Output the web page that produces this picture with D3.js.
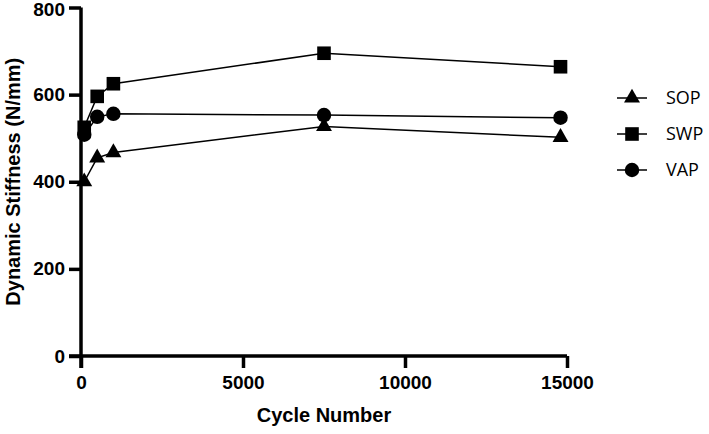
<!DOCTYPE html>
<html>
<head>
<meta charset="utf-8">
<script src="https://cdn.jsdelivr.net/npm/d3@7"></script>
<style>
  body { margin: 0; background: #fff; }
  svg { display: block; }
</style>
</head>
<body>
<svg id="chart"></svg>
<script>
const width = 709;
const height = 434;

// data
const cycles = [100, 500, 1000, 7500, 14800];
const sop = [400, 455, 467, 527, 502];
const swp = [525, 596, 625, 695, 664];
const vap = [508, 549, 556, 553, 547];
const xTicks = [0, 5000, 10000, 15000];
const yTicks = [0, 200, 400, 600, 800];

const series = [
  { name: 'SOP', values: sop, symbol: d3.symbolTriangle, size: 110 },
  { name: 'SWP', values: swp, symbol: d3.symbolSquare, size: 185 },
  { name: 'VAP', values: vap, symbol: d3.symbolCircle, size: 165 }
];

const svg = d3.select('#chart')
  .attr('width', width)
  .attr('height', height);

const x = d3.scaleLinear().domain([0, 15000]).range([81, 567]);
const y = d3.scaleLinear().domain([0, 800]).range([356, 7.5]);

const tickFont = 'Liberation Sans, Arial, sans-serif';

// y axis
const yAxis = svg.append('g')
  .attr('transform', `translate(${x(0)},0)`)
  .call(d3.axisLeft(y).tickValues(yTicks).tickSize(12).tickSizeOuter(0).tickPadding(4));

// x axis
const xAxis = svg.append('g')
  .attr('transform', `translate(0,${y(0)})`)
  .call(d3.axisBottom(x).tickValues(xTicks).tickFormat(d3.format('d')).tickSize(12).tickSizeOuter(0).tickPadding(8));

[yAxis, xAxis].forEach(g => {
  g.select('.domain').attr('stroke', '#000').attr('stroke-width', 3.5);
  g.selectAll('.tick line').attr('stroke', '#000').attr('stroke-width', 3.5);
  g.selectAll('.tick text')
    .attr('fill', '#000')
    .style('font-family', tickFont)
    .style('font-weight', 'bold')
    .style('font-size', '19px');
});
// top label sits right at the edge, nudge it so it is not clipped
yAxis.selectAll('.tick text').filter(d => d === 800).attr('y', 2);

// y axis runs down through the x axis, x axis starts at the y tick
yAxis.select('.domain').attr('d', `M0,${y(800)}V${y(0) + 12}`);
xAxis.select('.domain').attr('d', `M${x(0) - 12},0H${x(15000)}`);

// axis titles
svg.append('text')
  .attr('x', (x(0) + x(15000)) / 2)
  .attr('y', 422)
  .attr('text-anchor', 'middle')
  .style('font-family', tickFont)
  .style('font-weight', 'bold')
  .style('font-size', '20px')
  .text('Cycle Number');

svg.append('text')
  .attr('transform', `translate(20,${(y(0) + y(800)) / 2}) rotate(-90)`)
  .attr('text-anchor', 'middle')
  .style('font-family', tickFont)
  .style('font-weight', 'bold')
  .style('font-size', '20px')
  .text('Dynamic Stiffness (N/mm)');

const line = d3.line()
  .x((d, i) => x(cycles[i]))
  .y(d => y(d));

series.forEach(s => {
  svg.append('path')
    .datum(s.values)
    .attr('fill', 'none')
    .attr('stroke', '#000')
    .attr('stroke-width', 1.5)
    .attr('d', line);

  svg.append('g')
    .selectAll('path')
    .data(s.values)
    .enter().append('path')
    .attr('transform', (d, i) => `translate(${x(cycles[i])},${y(d)})`)
    .attr('d', d3.symbol().type(s.symbol).size(s.size))
    .attr('fill', '#000');
});

// legend
const legend = svg.append('g');
series.forEach((s, i) => {
  const ly = 98 + i * 36;
  legend.append('line')
    .attr('x1', 617).attr('x2', 647)
    .attr('y1', ly).attr('y2', ly)
    .attr('stroke', '#000')
    .attr('stroke-width', 1.5);
  legend.append('path')
    .attr('transform', `translate(632,${ly})`)
    .attr('d', d3.symbol().type(s.symbol).size(s.size))
    .attr('fill', '#000');
  legend.append('text')
    .attr('x', 666)
    .attr('y', ly)
    .attr('dy', '0.35em')
    .style('font-family', 'Open Sans, sans-serif')
    .style('font-size', '18px')
    .text(s.name);
});
</script>
</body>
</html>
